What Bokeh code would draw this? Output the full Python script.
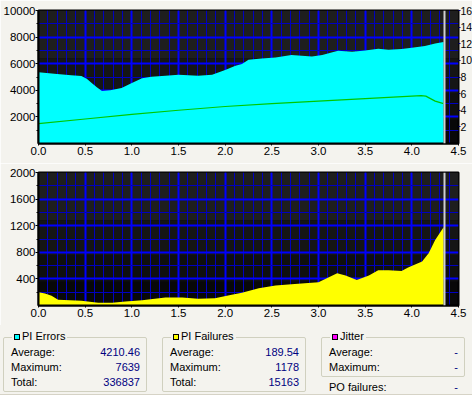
from bokeh.plotting import figure
from bokeh.models import (Range1d, LinearAxis, FixedTicker, SingleIntervalTicker,
                          PrintfTickFormatter, Span, BoxAnnotation, Div)
from bokeh.layouts import column
from bokeh.embed import file_html
from bokeh.resources import INLINE

# ---------------- data ----------------
x_err = [0.0, 0.17, 0.29, 0.35, 0.46, 0.52, 0.57, 0.625, 0.68, 0.77, 0.89, 1.0, 1.11, 1.21,
         1.36, 1.5, 1.71, 1.86, 2.0, 2.11, 2.18, 2.25, 2.39, 2.54, 2.71, 2.82, 2.93, 3.04,
         3.14, 3.21, 3.36, 3.5, 3.64, 3.75, 3.89, 4.0, 4.14, 4.25, 4.34]
pi_errors = [5350, 5250, 5175, 5125, 5075, 4850, 4550, 4225, 3950, 4000, 4175, 4550, 4900, 5025,
             5100, 5175, 5100, 5175, 5525, 5850, 5975, 6300, 6400, 6475, 6650, 6600, 6550, 6650,
             6850, 6975, 6900, 7000, 7125, 7050, 7100, 7200, 7325, 7525, 7639]

x_fail = [0.0, 0.07, 0.14, 0.21, 0.46, 0.55, 0.64, 0.79, 0.93, 1.11, 1.36, 1.54, 1.71, 1.89,
          2.07, 2.18, 2.36, 2.54, 2.71, 2.89, 3.0, 3.2, 3.29, 3.41, 3.54, 3.64, 3.75, 3.89,
          3.96, 4.11, 4.18, 4.25, 4.34]
pi_failures = [200, 180, 145, 85, 70, 55, 40, 40, 60, 80, 120, 120, 100, 110,
               160, 190, 260, 300, 320, 340, 350, 485, 450, 385, 450, 530, 530, 520,
               570, 660, 785, 985, 1178]

x_speed = [0.0, 0.5, 1.0, 1.5, 2.0, 2.5, 3.0, 3.5, 4.0, 4.1, 4.15, 4.25, 4.34]
speed = [2.4, 2.95, 3.5, 4.0, 4.45, 4.8, 5.1, 5.4, 5.7, 5.75, 5.7, 5.1, 4.8]

disc_end = 4.35
x_max = 4.5
err_max = 10000
fail_max = 2000
speed_max = 16
err_ticks = [2000, 4000, 6000, 8000, 10000]
err_minor = [1000, 3000, 5000, 7000, 9000]
fail_ticks = [400, 800, 1200, 1600, 2000]
fail_minor = [200, 600, 1000, 1400, 1800]
speed_ticks = [2, 4, 6, 8, 10, 12, 14, 16]

stat_labels = ["Average:", "Maximum:", "Total:"]
pi_err_stats = ["4210.46", "7639", "336837"]
pi_fail_stats = ["189.54", "1178", "15163"]
jitter_labels = ["Average:", "Maximum:"]
jitter_stats = ["-", "-"]
po_label = "PO failures:"
po_value = "-"

# ---------------- style ----------------
BG = "#f4f3ee"
FONT = "Liberation Sans"
FS = "11.5px"
CYAN = "#00ffff"
YELLOW = "#ffff00"
MAGENTA = "#ff00ff"
GREEN = "#00c800"


def make_chart(ymax, yticks, yminor, xs, ys, fill, top_border):
    p = figure(frame_width=420, frame_height=133,
               x_range=Range1d(0, x_max), y_range=Range1d(0, ymax),
               output_backend="svg", toolbar_location=None,
               min_border_left=36, min_border_right=16, min_border_top=top_border,
               min_border_bottom=20,
               background_fill_color="#080808", border_fill_color=BG,
               outline_line_color="black", outline_line_width=2)
    # dark gradient bands
    for lo, hi, col in [(0.64, 1.0, "#1e1e1e"), (0.38, 0.64, "#151515"), (0.18, 0.38, "#0f0f0f")]:
        p.add_layout(BoxAnnotation(bottom=lo * ymax, top=hi * ymax, fill_color=col,
                                   fill_alpha=1, line_color=None, level="image"))
    xt = SingleIntervalTicker(interval=0.5, num_minor_ticks=5)
    yt = FixedTicker(ticks=yticks, minor_ticks=yminor)
    p.xaxis.ticker = xt
    p.xgrid.ticker = xt
    p.yaxis.ticker = yt
    p.ygrid.ticker = yt
    p.xaxis.formatter = PrintfTickFormatter(format="%.1f")
    for g in (p.xgrid, p.ygrid):
        g.grid_line_color = "#0000ff"
        g.grid_line_width = 2
        g.minor_grid_line_color = "#0000c0"
        g.minor_grid_line_width = 1
    for ax in (p.xaxis, p.yaxis):
        ax.axis_line_color = "black"
        ax.axis_line_width = 2
        ax.major_tick_line_color = "black"
        ax.minor_tick_line_color = "black"
        ax.major_tick_in = 0
        ax.minor_tick_in = 0
        ax.major_label_text_font = FONT
        ax.major_label_text_font_size = FS
        ax.major_label_text_color = "black"
        ax.major_label_standoff = 1
    p.xaxis.major_tick_out = 2
    p.xaxis.minor_tick_out = 0
    p.yaxis.major_tick_out = 3
    p.yaxis.minor_tick_out = 2
    p.yaxis.major_label_standoff = 0
    p.varea(x=xs, y1=0, y2=ys, fill_color=fill, fill_alpha=1)
    p.add_layout(Span(location=disc_end, dimension="height",
                      line_color="#d0d0d0", line_width=2))
    return p


p1 = make_chart(err_max, err_ticks, err_minor, x_err, pi_errors, CYAN, 10)
p1.extra_y_ranges = {"speed": Range1d(0, speed_max)}
rax = LinearAxis(y_range_name="speed", ticker=FixedTicker(ticks=speed_ticks),
                 axis_line_color=None, major_tick_line_color="#000080",
                 major_tick_in=0, major_tick_out=2, minor_tick_out=0, minor_tick_in=0,
                 major_label_standoff=0, major_label_text_font=FONT,
                 major_label_text_font_size="10.5px", major_label_text_color="black")
p1.add_layout(rax, "right")
p1.line(x_speed, speed, y_range_name="speed", line_color=GREEN, line_width=1.2)

p2 = make_chart(fail_max, fail_ticks, fail_minor, x_fail, pi_failures, YELLOW, 9)


# ---------------- stats panel ----------------
def group(left, top, width, height, title, color, labels, values):
    h = []
    h.append(f'<div style="position:absolute;left:{left}px;top:{top}px;width:{width-2}px;'
             f'height:{height-2}px;border:1px solid #d0d0bf;border-radius:2px;"></div>')
    h.append(f'<div style="position:absolute;left:{left+9}px;top:{top-7}px;height:13px;'
             f'line-height:13px;background:{BG};padding:0 2px;white-space:nowrap;">'
             f'<span style="display:inline-block;width:6px;height:6px;background:{color};'
             f'border:1px solid #000;margin-right:2px;vertical-align:0px;"></span>{title}</div>')
    for i, (lab, val) in enumerate(zip(labels, values)):
        cy = top + 16 + 15 * i
        h.append(f'<div style="position:absolute;left:{left+8}px;top:{cy-7}px;'
                 f'line-height:13px;white-space:nowrap;">{lab}</div>')
        h.append(f'<div style="position:absolute;left:{left}px;top:{cy-7}px;width:{width-9}px;'
                 f'text-align:right;line-height:13px;color:#000080;">{val}</div>')
    return "".join(h)


parts = [group(3, 12, 146, 57, "PI Errors", CYAN, stat_labels, pi_err_stats),
         group(162, 12, 146, 57, "PI Failures", YELLOW, stat_labels, pi_fail_stats),
         group(321, 12, 146, 42, "Jitter", MAGENTA, jitter_labels, jitter_stats)]
parts.append(f'<div style="position:absolute;left:329px;top:56px;line-height:13px;'
             f'white-space:nowrap;">{po_label}</div>')
parts.append(f'<div style="position:absolute;left:321px;top:56px;width:137px;'
             f'text-align:right;line-height:13px;color:#000080;">{po_value}</div>')
parts.append('<div style="position:absolute;left:0;top:69px;width:472px;height:1px;'
             'background:#d6d3c6;"></div>')
parts.append('<div style="position:absolute;left:0;top:70px;width:472px;height:2px;'
             'background:#ffffff;"></div>')

html = (f'<div style="position:relative;width:472px;height:72px;background:{BG};'
        f'font-family:\'{FONT}\',Arial,sans-serif;font-size:11px;color:#000;overflow:hidden;">'
        + "".join(parts) + '</div>')

panel = Div(text=html, width=472, height=72, styles={"margin": "0", "padding": "0"})

layout = column(p1, p2, panel, spacing=0)

open("out.html", "w").write(file_html(layout, INLINE))
